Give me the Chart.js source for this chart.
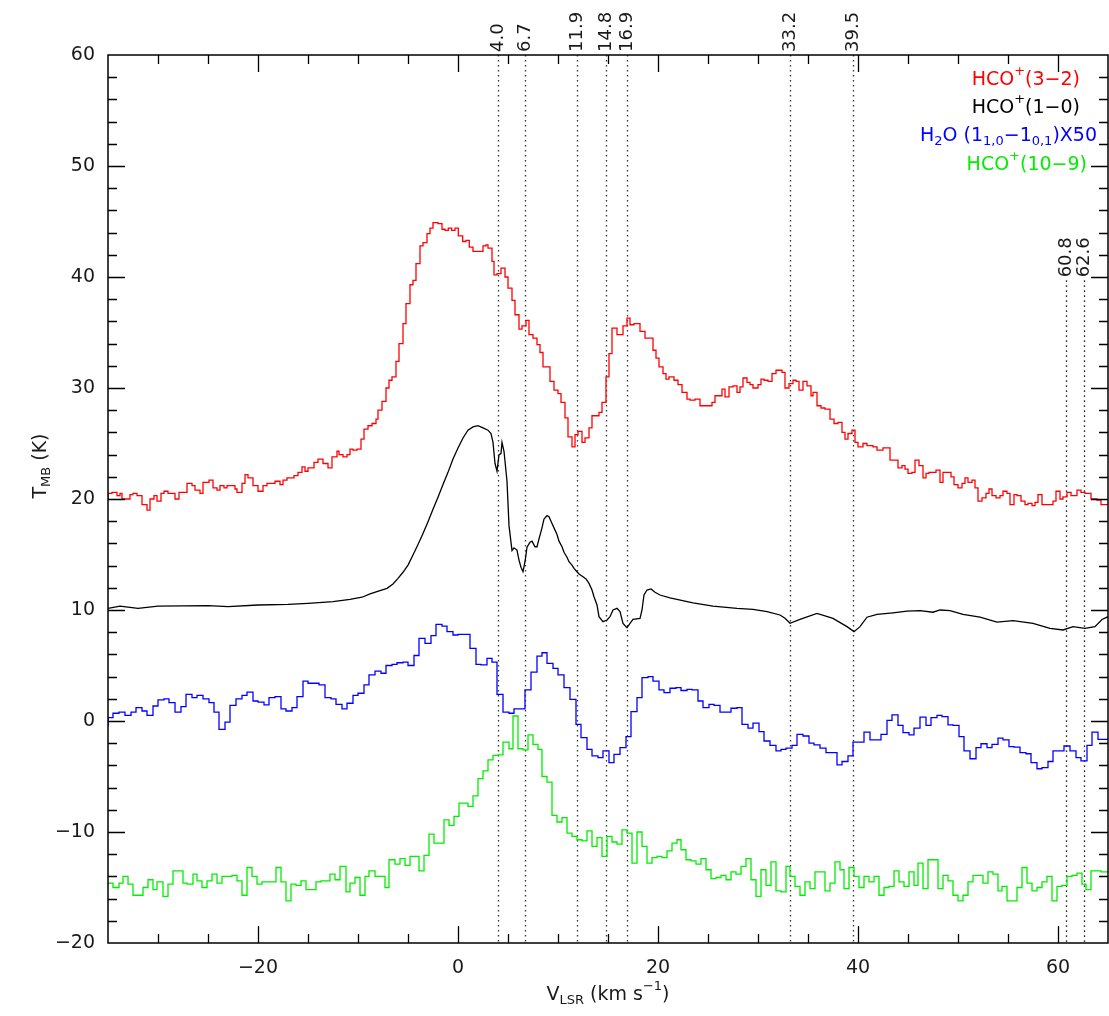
<!DOCTYPE html>
<html>
<head>
<meta charset="utf-8">
<script src="https://cdn.jsdelivr.net/npm/chart.js@4.4.1/dist/chart.umd.min.js"></script>
<style>
  html, body { margin: 0; padding: 0; background: #fff; }
  #wrap { width: 1109px; height: 1016px; }
</style>
</head>
<body>
<div id="wrap"><canvas id="spec" width="1109" height="1016"></canvas></div>
<script>
// HCO+(3-2): channel start velocity (km/s) and T_MB (K)
const velRed = [-35.0,-34.6,-34.1,-33.8,-33.6,-32.8,-32.5,-32.1,-31.6,-31.1,-30.8,-30.4,-30.1,-29.7,-29.4,-29.0,-28.3,-27.9,-27.6,-27.1,
  -26.6,-26.3,-25.8,-25.5,-24.9,-24.5,-24.1,-23.8,-23.4,-23.1,-22.3,-22.1,-21.6,-21.3,-21.0,-20.5,-20.0,-19.5,-19.1,-18.8,
  -18.3,-17.8,-17.5,-17.1,-16.4,-16.0,-15.6,-15.3,-15.0,-14.4,-14.0,-13.5,-13.0,-12.6,-12.1,-11.9,-11.5,-11.1,-10.8,-10.5,
  -10.1,-9.7,-9.4,-9.0,-8.6,-8.2,-8.0,-7.6,-7.2,-6.9,-6.6,-6.2,-5.9,-5.5,-5.2,-4.8,-4.5,-4.2,-3.8,-3.5,
  -3.1,-2.8,-2.5,-2.0,-1.6,-1.3,-0.97,-0.63,-0.3,0.03,0.47,0.8,1.13,1.5,2.5,2.8,3.0,3.4,3.6,3.9,
  4.3,4.7,5.0,5.4,5.7,6.1,6.4,6.8,7.1,7.5,7.9,8.2,8.5,9.2,9.6,10.0,10.3,10.7,11.0,11.4,
  11.7,12.0,12.4,12.7,13.1,13.4,14.1,14.4,14.8,15.1,15.4,15.9,16.5,16.9,17.2,17.6,18.2,18.7,19.5,19.8,
  20.1,20.5,20.8,21.1,21.6,22.0,22.4,22.9,23.2,23.7,24.2,25.4,25.7,26.4,26.7,27.1,27.5,27.9,28.2,28.5,
  28.9,29.2,29.5,30.0,30.3,30.6,31.0,31.4,31.8,32.4,32.7,33.1,33.5,33.8,34.1,34.5,34.9,35.3,35.5,35.9,
  36.3,36.7,37.2,37.6,38.0,38.4,38.7,39.0,39.4,39.7,40.0,40.5,40.9,41.5,41.9,42.5,43.2,44.0,44.4,44.7,
  45.0,45.4,45.7,46.1,46.5,46.8,47.1,47.8,48.2,48.5,49.3,49.6,50.0,50.4,50.7,51.0,51.4,51.7,52.0,52.4,
  52.8,53.1,53.4,53.8,54.2,54.5,54.9,55.2,55.6,55.9,56.3,56.7,57.0,57.4,57.7,58.0,58.4,59.5,59.8,60.2,
  60.5,60.9,61.3,61.9,62.3,62.7,63.3,63.9,64.3,64.7,65.0];
const tRed = [20.0,20.5,20.6,20.3,20.5,20.0,20.4,20.5,20.3,19.5,19.0,20.0,20.3,19.8,20.5,20.7,20.5,20.0,20.6,20.6,
  21.4,21.2,20.8,20.5,21.5,21.7,21.0,20.8,21.2,21.0,21.2,20.9,20.6,21.4,22.2,21.9,21.2,20.7,21.2,21.4,
  21.4,21.6,21.3,21.7,21.9,22.1,22.4,22.9,22.5,22.8,23.3,23.6,23.2,22.8,23.8,24.3,24.0,23.8,24.0,24.5,
  24.4,24.5,25.4,26.3,26.6,26.8,27.2,28.0,28.8,30.0,30.7,31.0,32.4,34.0,35.8,37.6,39.3,39.7,41.2,42.8,
  43.1,43.9,44.4,44.9,44.8,44.3,44.2,44.4,44.2,44.4,43.7,43.2,43.3,42.7,42.3,42.8,42.9,42.6,41.4,40.2,
  40.3,40.8,40.0,39.0,37.9,36.6,35.3,35.6,36.1,34.8,34.5,33.9,33.2,31.9,30.6,29.8,29.5,28.7,27.3,25.6,
  24.7,25.8,26.1,25.1,25.5,26.4,27.5,27.8,28.7,31.0,33.1,35.4,34.8,35.6,36.3,35.7,35.8,35.1,34.5,33.4,
  32.7,31.9,31.3,30.8,31.0,30.7,30.3,29.6,29.0,28.9,29.0,28.4,28.7,29.3,29.9,29.2,30.1,30.2,29.6,30.1,
  30.9,30.5,30.3,30.0,30.3,30.8,30.7,30.6,31.3,31.6,31.4,30.0,30.4,30.7,30.6,29.8,30.6,30.2,29.3,29.6,
  28.4,28.2,28.1,27.2,26.8,26.9,26.0,25.4,25.9,26.2,25.1,24.7,25.0,24.8,24.7,24.4,24.6,23.5,22.8,23.0,
  22.7,22.3,22.4,23.5,23.0,21.9,22.3,22.4,22.6,21.5,22.4,22.0,21.3,21.0,21.4,21.9,21.5,21.7,21.0,19.8,
  20.1,20.5,20.9,20.3,20.1,20.3,20.7,20.5,19.5,20.4,20.3,19.8,19.5,19.6,19.4,19.7,20.4,19.5,19.8,20.7,
  20.0,20.2,20.6,20.3,20.8,20.6,20.5,20.0,19.9,19.5,19.5];

// HCO+(1-0)
const velBlack = [-35.0,-33.8,-32.0,-30.0,-25.0,-23.0,-20.0,-17.0,-15.0,-12.5,-10.8,-9.6,-8.8,-7.8,-7.1,-6.5,-6.0,-5.5,-5.0,-4.5,
  -4.0,-3.5,-3.0,-2.5,-2.0,-1.5,-1.0,-0.5,0.0,0.5,1.0,1.5,2.0,2.5,3.0,3.3,3.5,3.7,3.9,4.1,
  4.3,4.4,4.6,4.9,5.1,5.4,5.6,5.9,6.1,6.3,6.5,6.7,6.9,7.2,7.4,7.7,7.9,8.1,8.4,8.6,
  8.9,9.1,9.4,9.6,9.9,10.1,10.4,10.6,10.9,11.1,11.4,11.6,11.9,12.1,12.5,12.8,13.1,13.4,13.6,13.9,
  14.1,14.5,14.9,15.2,15.5,15.9,16.2,16.5,16.9,17.2,17.5,18.2,18.4,18.6,18.9,19.3,19.7,20.2,21.2,23.5,
  25.5,27.9,29.5,30.9,32.2,32.7,33.2,34.2,35.9,37.5,38.9,39.6,40.2,40.9,41.9,43.5,44.9,46.2,47.5,48.2,
  49.2,50.5,52.2,53.9,55.5,57.5,59.2,60.5,61.5,62.7,63.7,64.4,65.0];
const tBlack = [10.15,10.35,10.15,10.35,10.4,10.3,10.45,10.5,10.6,10.75,10.95,11.15,11.45,11.75,11.95,12.35,12.85,13.4,14.05,14.95,
  15.9,16.9,17.96,19.07,20.15,21.3,22.4,23.6,24.6,25.5,26.2,26.5,26.6,26.4,26.2,25.9,25.1,23.2,22.5,24.0,
  24.1,25.1,24.3,21.6,17.6,15.35,15.6,15.4,14.5,13.85,13.45,14.35,15.65,16.1,16.2,15.7,15.7,16.4,17.4,18.2,
  18.5,18.4,17.8,17.4,16.8,16.2,15.7,15.2,14.75,14.35,14.05,13.75,13.45,13.25,13.0,12.8,12.4,11.8,11.2,10.45,
  9.4,8.95,9.1,9.4,10.0,10.15,9.85,8.8,8.4,8.8,9.15,9.25,10.0,11.35,11.8,11.9,11.6,11.35,11.1,10.65,
  10.35,10.15,10.05,9.85,9.55,9.25,8.8,9.15,9.7,9.25,8.5,8.05,8.5,9.35,9.6,9.75,9.9,9.95,9.8,10.0,
  9.95,9.6,9.35,8.9,9.05,8.8,8.35,8.2,8.5,8.35,8.5,9.15,9.4];

// H2O (1_1,0-1_0,1) x50
const velBlue = [-35.0,-34.5,-33.9,-33.3,-32.7,-32.2,-31.6,-31.1,-30.5,-30.0,-29.4,-28.9,-28.3,-27.7,-27.2,-26.6,-26.1,-25.5,-24.9,-24.4,
  -23.9,-23.3,-22.8,-22.2,-21.6,-21.1,-20.5,-20.0,-19.4,-18.9,-18.3,-17.7,-17.2,-16.6,-16.1,-15.5,-15.0,-13.9,-13.3,-12.7,
  -12.2,-11.6,-11.1,-10.5,-10.0,-9.4,-8.9,-8.3,-7.7,-7.2,-6.6,-6.1,-5.5,-5.0,-4.4,-3.9,-3.3,-2.7,-2.2,-1.6,
  -1.1,-0.5,0.0,1.2,1.8,2.3,2.9,3.4,3.9,4.5,5.1,5.6,6.7,7.3,7.9,8.4,8.9,9.5,10.0,10.6,
  11.2,11.8,12.3,12.9,13.4,14.0,14.5,15.1,15.6,16.2,16.8,17.3,17.9,18.4,19.0,19.5,20.1,20.6,21.2,21.8,
  22.3,22.9,23.4,24.0,24.5,25.1,25.6,26.2,27.3,27.9,28.4,29.0,29.5,30.1,30.6,31.2,31.8,32.3,32.8,33.4,
  33.9,34.5,35.1,35.6,36.2,36.8,37.9,38.4,39.0,39.5,40.6,41.2,42.3,42.9,43.4,44.0,44.5,45.1,45.6,46.2,
  46.8,47.3,47.9,48.4,49.0,49.5,50.1,50.6,51.2,51.8,52.3,52.9,53.4,54.0,54.5,55.1,55.6,56.2,56.8,57.3,
  57.9,58.4,59.0,59.5,60.6,61.2,61.8,62.3,62.9,63.4,64.0,64.5,65.0];
const tBlue = [-0.5,0.3,0.7,0.8,0.5,0.8,1.2,0.9,0.5,1.35,1.9,2.0,1.65,0.8,1.3,2.4,2.1,2.3,2.0,1.65,
  0.8,-0.75,-0.1,1.4,2.0,2.3,2.6,1.8,1.7,1.45,2.1,2.2,1.1,0.9,1.2,2.2,3.6,3.4,3.25,2.1,
  2.0,1.5,1.1,1.6,2.3,2.5,3.25,4.15,4.5,4.3,5.0,5.1,5.25,5.3,5.0,5.9,7.45,7.0,7.7,8.7,
  8.55,8.05,7.75,7.8,6.55,5.1,5.05,5.65,5.3,2.4,0.8,0.7,1.1,2.8,4.4,5.85,6.15,5.2,4.75,4.15,
  3.0,1.95,-0.3,-1.5,-2.55,-3.15,-3.3,-2.7,-3.75,-3.0,-2.4,-1.4,0.85,2.1,3.9,4.0,3.6,2.8,2.55,2.95,
  3.0,2.75,2.85,2.8,1.8,1.2,1.5,1.4,0.8,1.15,1.2,-0.3,-0.65,-0.2,-0.95,-1.8,-2.2,-2.7,-2.55,-2.45,
  -2.2,-1.2,-1.35,-2.0,-2.15,-2.45,-2.85,-3.95,-3.65,-3.15,-1.9,-1.0,-1.7,-1.2,0.05,0.55,-0.4,-1.05,-1.25,-0.65,
  0.35,-0.4,0.3,0.5,0.4,-0.35,-0.4,-1.4,-2.7,-3.4,-2.4,-2.05,-2.4,-2.1,-1.55,-1.7,-2.3,-2.35,-2.85,-2.95,
  -3.75,-4.3,-4.2,-3.65,-2.7,-2.25,-2.7,-3.3,-3.6,-2.2,-1.0,-1.65,-1.65];

// HCO+(10-9)
const velGreen = [-35.0,-34.5,-33.9,-33.5,-33.0,-32.5,-31.5,-31.0,-30.5,-30.1,-29.5,-29.0,-28.5,-27.5,-27.1,-26.5,-26.1,-25.6,-25.1,-24.6,
  -24.1,-23.6,-22.6,-22.1,-21.6,-21.1,-20.6,-20.1,-19.6,-19.1,-18.2,-17.7,-17.2,-16.7,-16.2,-15.7,-15.2,-14.7,-14.2,-13.7,
  -12.8,-12.3,-11.8,-11.2,-10.8,-10.3,-9.8,-9.3,-8.9,-8.3,-7.8,-7.3,-6.9,-6.3,-5.8,-5.3,-4.8,-4.3,-3.9,-3.4,
  -2.9,-2.4,-1.9,-1.4,-0.9,-0.4,0.1,1.0,1.5,2.0,2.5,3.0,3.5,4.0,4.5,5.1,5.5,6.0,6.5,7.0,
  7.5,8.0,8.4,8.9,9.4,9.9,10.4,10.9,11.4,11.9,12.4,12.9,13.4,13.9,14.4,14.9,15.4,15.9,16.4,16.9,
  17.4,17.9,18.4,18.9,19.4,19.9,20.4,20.9,21.4,21.9,22.3,22.8,23.3,23.8,24.3,24.8,25.3,25.8,26.3,26.8,
  27.3,27.8,28.3,28.8,29.3,29.8,30.3,30.8,31.3,31.8,32.3,32.8,33.2,33.7,34.2,34.7,35.2,35.7,36.7,37.2,
  37.7,38.2,38.6,39.1,39.6,40.1,40.6,41.1,41.6,42.1,42.6,43.1,43.6,44.1,44.6,45.1,45.6,46.0,46.5,47.0,
  48.0,48.5,49.0,49.5,50.0,50.5,51.0,51.5,52.5,53.0,53.5,54.0,54.4,54.9,55.9,56.4,56.9,57.4,57.9,58.4,
  58.9,59.4,59.9,60.4,60.9,61.4,61.9,62.4,62.8,63.3,64.3,64.7,65.0];
const tGreen = [-14.8,-14.6,-15.0,-14.6,-14.0,-14.7,-15.7,-15.0,-14.3,-15.2,-14.5,-15.8,-14.7,-13.5,-14.6,-14.7,-13.8,-14.4,-15.0,-14.4,
  -13.8,-14.6,-14.0,-13.9,-14.4,-15.7,-13.2,-14.0,-14.7,-14.5,-14.5,-13.2,-14.5,-16.2,-14.7,-14.8,-14.4,-15.2,-15.2,-14.5,
  -14.4,-13.8,-14.3,-13.1,-15.4,-14.6,-14.1,-15.7,-14.0,-13.5,-14.0,-14.0,-15.0,-12.5,-12.9,-12.4,-13.0,-12.2,-12.2,-13.5,
  -12.1,-10.2,-11.0,-11.0,-8.9,-9.4,-8.6,-7.4,-7.7,-6.75,-5.2,-4.5,-3.5,-3.1,-3.05,-1.9,-2.5,0.45,-2.5,-2.6,
  -1.25,-2.1,-2.55,-5.0,-5.5,-8.5,-9.1,-8.7,-10.1,-10.4,-10.7,-10.8,-9.9,-11.3,-10.5,-12.2,-10.4,-10.9,-11.1,-9.8,
  -10.1,-12.8,-10.0,-11.3,-12.8,-12.3,-12.2,-12.3,-11.7,-11.0,-10.7,-11.6,-12.5,-12.6,-12.9,-12.4,-13.4,-14.2,-14.1,-13.9,
  -14.3,-13.6,-13.8,-13.1,-12.4,-14.3,-15.8,-13.4,-14.8,-12.7,-15.3,-15.4,-13.1,-14.0,-14.9,-15.7,-14.5,-15.1,-13.6,-15.3,
  -14.6,-12.7,-13.4,-15.1,-13.2,-14.0,-15.0,-14.0,-14.5,-14.0,-15.7,-15.0,-14.9,-13.5,-14.5,-14.9,-13.6,-14.8,-12.8,-15.1,
  -12.5,-15.1,-13.9,-14.4,-15.7,-16.2,-15.7,-14.5,-13.9,-14.6,-13.6,-13.8,-15.3,-14.9,-16.2,-15.0,-13.2,-14.6,-15.3,-15.0,
  -14.5,-14.0,-16.2,-14.9,-14.8,-14.0,-13.9,-13.7,-14.7,-15.2,-13.5,-13.6,-13.6];

// marked velocities (dotted lines) and the T where each line starts
const markerVel = [4.0, 6.7, 11.9, 14.8, 16.9, 33.2, 39.5, 60.8, 62.6];
const markerText = ['4.0', '6.7', '11.9', '14.8', '16.9', '33.2', '39.5', '60.8', '62.6'];
const markerTop = [60, 60, 60, 60, 60, 60, 60, 39.7, 39.7];

const xMin = -35, xMax = 65, yMin = -20, yMax = 60;
const FONT = '"DejaVu Sans", sans-serif';
const INK = '#1a1a1a';

function toPoints(vel, vals) {
  return vel.map((v, i) => ({ x: v, y: vals[i] }));
}

function minus(s) {
  return String(s).replace('-', '\u2212');
}

// text made of normal / sup / sub pieces
function richWidth(ctx, parts, size) {
  let w = 0;
  parts.forEach(p => {
    ctx.font = `${p.sup || p.sub ? Math.round(size * 0.68) : size}px ${FONT}`;
    w += ctx.measureText(p.t).width;
  });
  return w;
}

function drawRich(ctx, parts, x, y, size) {
  let cx = x;
  ctx.textAlign = 'left';
  ctx.textBaseline = 'middle';
  parts.forEach(p => {
    const small = p.sup || p.sub;
    ctx.font = `${small ? Math.round(size * 0.68) : size}px ${FONT}`;
    let dy = 0;
    if (p.sup) dy = -size * 0.42;
    if (p.sub) dy = size * 0.32;
    ctx.fillText(p.t, cx, y + dy);
    cx += ctx.measureText(p.t).width;
  });
}

const legendItems = [
  { color: '#ff0000', right: 1080, y: 80, parts: [{ t: 'HCO' }, { t: '+', sup: true }, { t: '(3\u22122)' }] },
  { color: '#000000', right: 1080, y: 108, parts: [{ t: 'HCO' }, { t: '+', sup: true }, { t: '(1\u22120)' }] },
  { color: '#0000ff', right: 1097, y: 136, parts: [{ t: 'H' }, { t: '2', sub: true }, { t: 'O (1' }, { t: '1,0', sub: true }, { t: '\u22121' }, { t: '0,1', sub: true }, { t: ')X50' }] },
  { color: '#00ee00', right: 1087, y: 165, parts: [{ t: 'HCO' }, { t: '+', sup: true }, { t: '(10\u22129)' }] }
];

const decorPlugin = {
  id: 'decor',
  beforeDatasetsDraw(chart) {
    const { ctx, chartArea, scales } = chart;
    ctx.save();
    ctx.strokeStyle = '#333';
    ctx.lineWidth = 1.3;
    ctx.setLineDash([1.6, 3.4]);
    markerVel.forEach((v, i) => {
      const x = Math.round(scales.x.getPixelForValue(v)) + 0.5;
      const yTop = scales.y.getPixelForValue(markerTop[i]);
      ctx.beginPath();
      ctx.moveTo(x, yTop);
      ctx.lineTo(x, chartArea.bottom);
      ctx.stroke();
    });
    ctx.setLineDash([]);
    ctx.fillStyle = INK;
    ctx.font = `18px ${FONT}`;
    ctx.textAlign = 'left';
    ctx.textBaseline = 'middle';
    markerVel.forEach((v, i) => {
      const x = scales.x.getPixelForValue(v);
      const yTop = scales.y.getPixelForValue(markerTop[i]);
      ctx.save();
      ctx.translate(x, yTop - 3);
      ctx.rotate(-Math.PI / 2);
      ctx.fillText(markerText[i], 0, 0);
      ctx.restore();
    });
    ctx.restore();
  },
  afterDraw(chart) {
    const { ctx, chartArea, scales } = chart;
    const { left, right, top, bottom } = chartArea;
    ctx.save();
    ctx.strokeStyle = '#000';
    ctx.lineWidth = 1.5;
    ctx.strokeRect(left, top, right - left, bottom - top);

    // inward ticks on all four sides
    ctx.lineWidth = 1.3;
    ctx.beginPath();
    scales.x.ticks.forEach(t => {
      if (t.value <= xMin || t.value >= xMax) return;
      const x = Math.round(scales.x.getPixelForValue(t.value)) + 0.5;
      const len = t.value % 20 === 0 ? 17 : 9;
      ctx.moveTo(x, bottom); ctx.lineTo(x, bottom - len);
      ctx.moveTo(x, top); ctx.lineTo(x, top + len);
    });
    scales.y.ticks.forEach(t => {
      if (t.value <= yMin || t.value >= yMax) return;
      const y = Math.round(scales.y.getPixelForValue(t.value)) + 0.5;
      const len = t.value % 10 === 0 ? 17 : 9;
      ctx.moveTo(left, y); ctx.lineTo(left + len, y);
      ctx.moveTo(right, y); ctx.lineTo(right - len, y);
    });
    ctx.stroke();

    // legend
    legendItems.forEach(item => {
      ctx.fillStyle = item.color;
      const w = richWidth(ctx, item.parts, 19);
      drawRich(ctx, item.parts, item.right - w, item.y, 19);
    });

    // axis titles
    ctx.fillStyle = INK;
    const xTitle = [{ t: 'V' }, { t: 'LSR', sub: true }, { t: ' (km s' }, { t: '\u22121', sup: true }, { t: ')' }];
    const xw = richWidth(ctx, xTitle, 19);
    drawRich(ctx, xTitle, (left + right) / 2 - xw / 2, 995, 19);

    const yTitle = [{ t: 'T' }, { t: 'MB', sub: true }, { t: ' (K)' }];
    const yw = richWidth(ctx, yTitle, 19);
    ctx.save();
    ctx.translate(41, 466);
    ctx.rotate(-Math.PI / 2);
    drawRich(ctx, yTitle, -yw / 2, 0, 19);
    ctx.restore();
    ctx.restore();
  }
};

function lineSet(label, vel, vals, color, stepped) {
  return {
    label,
    data: toPoints(vel, vals),
    borderColor: color,
    backgroundColor: color,
    borderWidth: 1.3,
    pointRadius: 0,
    tension: 0,
    stepped,
    fill: false
  };
}

function noPad(scale) {
  scale.paddingLeft = 0;
  scale.paddingRight = 0;
  scale.paddingTop = 0;
  scale.paddingBottom = 0;
}

const ctx = document.getElementById('spec').getContext('2d');
new Chart(ctx, {
  type: 'line',
  data: {
    datasets: [
      lineSet('HCO+(3-2)', velRed, tRed, '#ff0000', 'after'),
      lineSet('HCO+(1-0)', velBlack, tBlack, '#000000', false),
      lineSet('H2O x50', velBlue, tBlue, '#0000ff', 'after'),
      lineSet('HCO+(10-9)', velGreen, tGreen, '#00ee00', 'after')
    ]
  },
  options: {
    responsive: false,
    animation: false,
    events: [],
    layout: { padding: { top: 55, right: 1, left: 0, bottom: 0 } },
    plugins: {
      legend: { display: false },
      tooltip: { enabled: false }
    },
    scales: {
      x: {
        type: 'linear',
        min: xMin,
        max: xMax,
        grid: { display: false, drawTicks: false },
        border: { display: false },
        afterFit: scale => { scale.height = 73; noPad(scale); },
        ticks: {
          stepSize: 5,
          autoSkip: false,
          maxRotation: 0,
          padding: 14,
          color: INK,
          font: { family: FONT, size: 19 },
          callback: v => (v % 20 === 0 ? minus(v) : '')
        }
      },
      y: {
        min: yMin,
        max: yMax,
        grid: { display: false, drawTicks: false },
        border: { display: false },
        afterFit: scale => { scale.width = 108; noPad(scale); },
        ticks: {
          stepSize: 2,
          autoSkip: false,
          padding: 13,
          color: INK,
          font: { family: FONT, size: 19 },
          callback: v => (v % 10 === 0 ? minus(v) : '')
        }
      }
    }
  },
  plugins: [decorPlugin]
});
</script>
</body>
</html>
